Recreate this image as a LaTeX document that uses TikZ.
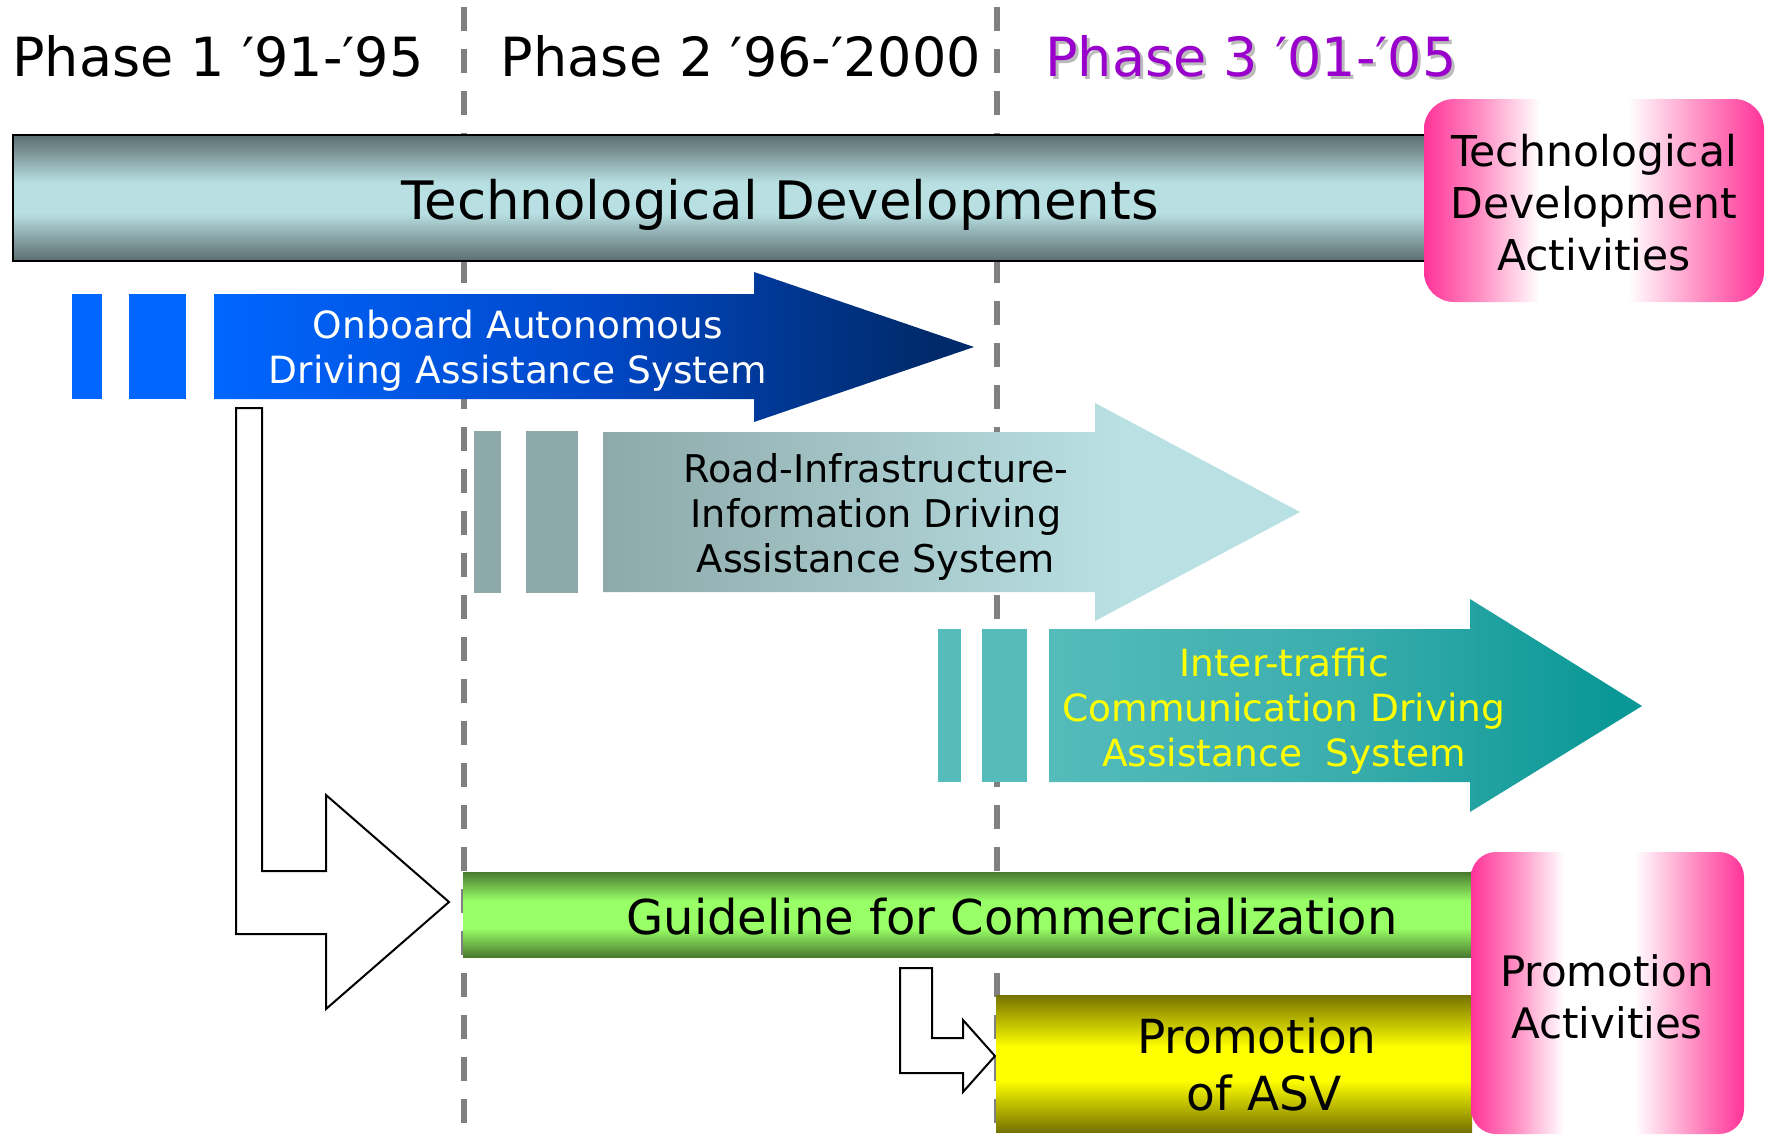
\documentclass[tikz,border=0pt]{standalone}
\usepackage{fontspec}
\setmainfont{DejaVu Sans}
\definecolor{dashgray}{HTML}{808080}
\definecolor{tdark}{HTML}{5A6E70}
\definecolor{tmid}{HTML}{7E9698}
\definecolor{tlight}{HTML}{B8E0E3}
\definecolor{pinkE}{HTML}{FF3399}
\definecolor{pinkM}{HTML}{FF8CC2}
\definecolor{gdark}{HTML}{4A7A30}
\definecolor{glight}{HTML}{99FF66}
\definecolor{ydark}{HTML}{767300}
\definecolor{ylight}{HTML}{FFFF00}
\definecolor{blueA}{HTML}{0066FF}
\definecolor{blueB}{HTML}{0048C8}
\definecolor{blueC}{HTML}{002A6A}
\definecolor{roadA}{HTML}{8EA9AA}
\definecolor{roadC}{HTML}{B9E0E3}
\definecolor{interA}{HTML}{55BBBB}
\definecolor{interB}{HTML}{3AADAD}
\definecolor{interC}{HTML}{0A9896}
\definecolor{phasepurple}{HTML}{9900CC}
\definecolor{shadowgray}{HTML}{BBBBBB}
\pgfdeclareverticalshading{techsh}{100bp}{color(0bp)=(tdark); color(25bp)=(tdark); color(32bp)=(tmid); color(44bp)=(tlight); color(56bp)=(tlight); color(68bp)=(tmid); color(75bp)=(tdark); color(100bp)=(tdark)}
\pgfdeclareverticalshading{greensh}{100bp}{color(0bp)=(gdark); color(25bp)=(gdark); color(42bp)=(glight); color(58bp)=(glight); color(75bp)=(gdark); color(100bp)=(gdark)}
\pgfdeclareverticalshading{yellowsh}{100bp}{color(0bp)=(ydark); color(25bp)=(ydark); color(44bp)=(ylight); color(56bp)=(ylight); color(75bp)=(ydark); color(100bp)=(ydark)}
\pgfdeclarehorizontalshading{pinksh}{100bp}{color(0bp)=(pinkE); color(25bp)=(pinkE); color(33bp)=(pinkM); color(42bp)=(white); color(55bp)=(white); color(66bp)=(pinkM); color(75bp)=(pinkE); color(100bp)=(pinkE)}
\pgfdeclarehorizontalshading{bluesh}{100bp}{color(0bp)=(blueA); color(25bp)=(blueA); color(50bp)=(blueB); color(72bp)=(blueC); color(100bp)=(blueC)}
\pgfdeclarehorizontalshading{roadsh}{100bp}{color(0bp)=(roadA); color(25bp)=(roadA); color(62bp)=(roadC); color(100bp)=(roadC)}
\pgfdeclarehorizontalshading{intersh}{100bp}{color(0bp)=(interA); color(25bp)=(interA); color(50bp)=(interB); color(72bp)=(interC); color(100bp)=(interC)}
\begin{document}
\begin{tikzpicture}[x=1pt,y=-1pt,
  dashln/.style={draw=dashgray, line width=5.5pt, dash pattern=on 24pt off 18pt},
  hollow/.style={draw=black, fill=white, line width=2pt, line join=miter},
  txt/.style={inner sep=0pt, align=center},
  phasetxt/.style={txt, font=\fontsize{54}{60}\selectfont},
  arrowtxt/.style={txt, font=\fontsize{37.5}{45}\selectfont},
]
\useasboundingbox (0,0) rectangle (1767,1135);
% phase separators
\draw[dashln] (464,7) -- (464,1130);
\draw[dashln] (997,7) -- (997,1130);
% phase titles
\node[phasetxt] (ph1) at (218,56) {Phase 1 ′91-′95};
\node[phasetxt] (ph2) at (741,56) {Phase 2 ′96-′2000};
\node[phasetxt, text=shadowgray] (ph3s) at (1254,59) {Phase 3 ′01-′05};
\node[phasetxt, text=phasepurple] (ph3) at (1251,56) {Phase 3 ′01-′05};
% technological developments bar
\path[shading=techsh, draw=black, line width=2.5pt] (13,135) rectangle (1428,261);
\node[txt, font=\fontsize{53}{63}\selectfont] (tdev) at (780,205) {Technological Developments};
\path[shading=pinksh, rounded corners=30pt] (1424,99) rectangle (1764,302);
\node[txt, font=\fontsize{42.5}{52}\selectfont] (tda) at (1594,203) {Technological\\Development\\Activities};
% onboard arrow
\fill[blueA] (72,294) rectangle (102,399);
\fill[blueA] (129,294) rectangle (186,399);
\path[shading=bluesh] (214,294) -- (754,294) -- (754,272) -- (974,347) -- (754,422) -- (754,399) -- (214,399) -- cycle;
\node[arrowtxt, text=white] (oads) at (518,351) {Onboard Autonomous\\Driving Assistance System};
% road infrastructure arrow
\fill[roadA] (474,431) rectangle (501,593);
\fill[roadA] (526,431) rectangle (578,593);
\path[shading=roadsh] (603,432) -- (1095,432) -- (1095,403) -- (1300,512) -- (1095,621) -- (1095,592) -- (603,592) -- cycle;
\node[arrowtxt, font=\fontsize{38.2}{45}\selectfont] (rids) at (876,517) {Road-Infrastructure-\\Information Driving\\Assistance System};
% inter-traffic arrow
\fill[interA] (938,629) rectangle (961,782);
\fill[interA] (982,629) rectangle (1027,782);
\path[shading=intersh] (1049,629) -- (1470,629) -- (1470,599) -- (1642,706) -- (1470,812) -- (1470,782) -- (1049,782) -- cycle;
\node[arrowtxt, text=ylight] (icds) at (1284,711) {Inter-traffic\\Communication Driving\\Assistance\ \ System};
% big hollow arrow
\draw[hollow] (236,408) -- (262,408) -- (262,871) -- (326,871) -- (326,795) -- (449,902) -- (326,1009) -- (326,934) -- (236,934) -- cycle;
% guideline bar
\path[shading=greensh] (463,872) rectangle (1472,957);
\node[txt, font=\fontsize{48}{58}\selectfont] (gfc) at (1012,917) {Guideline for Commercialization};
% small hollow arrow
\draw[hollow] (900,968) -- (932,968) -- (932,1038) -- (963,1038) -- (963,1020) -- (995,1056) -- (963,1092) -- (963,1073) -- (900,1073) -- cycle;
% promotion of ASV bar
\path[shading=yellowsh] (996,995) rectangle (1472,1132);
\node[txt, font=\fontsize{47}{57}\selectfont] (pasv) at (1257,1064) {Promotion\\\hspace*{0.3em}of ASV};
% promotion activities box
\path[shading=pinksh, rounded corners=25pt] (1471,852) rectangle (1744,1134);
\node[txt, font=\fontsize{42}{52}\selectfont] (pact) at (1607,997) {Promotion\\Activities};
\end{tikzpicture}
\end{document}
